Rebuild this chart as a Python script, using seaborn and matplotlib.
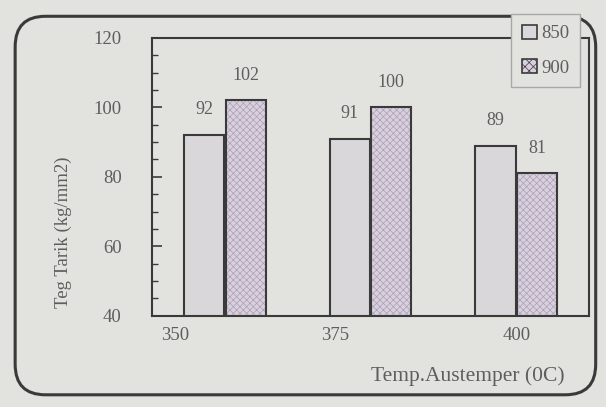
import pandas as pd
import numpy as np
import matplotlib
matplotlib.use("Agg")
import matplotlib.pyplot as plt
import matplotlib.transforms as mtransforms
from matplotlib.patches import FancyBboxPatch, Rectangle
import seaborn as sns

# data
temps = ["350", "375", "400"]
series = ["850", "900"]
vals_850 = [92, 91, 89]
vals_900 = [102, 100, 81]

df = pd.DataFrame({
    "temp": temps * 2,
    "series": [series[0]] * 3 + [series[1]] * 3,
    "val": vals_850 + vals_900,
})

bg = "#e2e2df"
ink = "#3a3a3a"
txt = "#5e5e5e"

sns.set_theme(style="white")
plt.rcParams["font.family"] = ["Liberation Serif", "DejaVu Serif"]
plt.rcParams["hatch.linewidth"] = 0.5

fig = plt.figure(figsize=(6.06, 4.07), dpi=100, facecolor=bg)
ax = fig.add_axes([0.251, 0.224, 0.721, 0.683], facecolor=bg)

sns.barplot(data=df, x="temp", y="val", hue="series", palette=["#dad6dc", "#d8cede"],
            width=0.57, gap=0.03, edgecolor=ink, linewidth=1.5, ax=ax, legend=False)

ax.set_ylim(40, 120)
ax.set_xlim(-0.5, 2.5)

# hatched texture for the 900 series, outline redrawn on top
for p in ax.containers[1]:
    p.set_hatch("xxxxx")
    p.set_edgecolor("#ad9fb8")
    p.set_linewidth(0)
    ax.add_patch(Rectangle(p.get_xy(), p.get_width(), p.get_height(),
                           fill=False, ec=ink, lw=1.5, zorder=p.get_zorder() + 0.1))

for c in ax.containers:
    ax.bar_label(c, padding=12, fontsize=13, color=txt)

ax.set_yticks(np.arange(40, 121, 20))
ax.set_yticks(np.arange(40, 121, 5), minor=True)
ax.tick_params(axis="y", which="both", direction="in", left=True, colors=ink,
               labelcolor=txt, labelsize=13.5, pad=22)
ax.tick_params(axis="y", which="major", length=7, width=1.2)
ax.tick_params(axis="y", which="minor", length=4, width=1.0)
ax.tick_params(axis="x", length=0, labelsize=13.5, labelcolor=txt, pad=8)

# tick labels sit left of their groups in the scan
shifts = [-50, -35, 0]
for lab, dx in zip(ax.get_xticklabels(), shifts):
    lab.set_transform(lab.get_transform() + mtransforms.ScaledTranslation(dx / 100, 0, fig.dpi_scale_trans))

for s in ax.spines.values():
    s.set_color(ink)
    s.set_linewidth(1.5)

ax.set_ylabel("Teg Tarik (kg/mm2)", fontsize=13.5, color=txt)
ax.yaxis.set_label_coords(-0.183, 0.30)
ax.set_xlabel("Temp.Austemper (0C)", fontsize=15.5, color=txt)
ax.xaxis.set_label_coords(0.723, -0.183)

handles = [Rectangle((0, 0), 1, 1, fc="#dad6dc", ec=ink, lw=1.2),
           Rectangle((0, 0), 1, 1, fc="#d8cede", ec=ink, lw=1.2, hatch="xxxx")]
leg = fig.legend(handles, series, loc="upper right", bbox_to_anchor=(0.972, 0.988),
                 fontsize=13.5, frameon=True, fancybox=False, facecolor=bg, framealpha=1,
                 edgecolor="#a8a8a8", handlelength=0.8, handleheight=0.8,
                 handletextpad=0.25, labelspacing=0.9, borderpad=0.55, labelcolor=txt)
leg.get_frame().set_linewidth(1.0)

# rounded outer frame of the scanned figure
frame = FancyBboxPatch((0.025, 0.03), 0.958, 0.93, boxstyle="round,pad=0,rounding_size=0.05",
                       transform=fig.transFigure, fill=False, ec=ink, lw=2.2, mutation_aspect=1.5)
fig.patches.append(frame)

fig.savefig("out.png", dpi=100, facecolor=bg)
